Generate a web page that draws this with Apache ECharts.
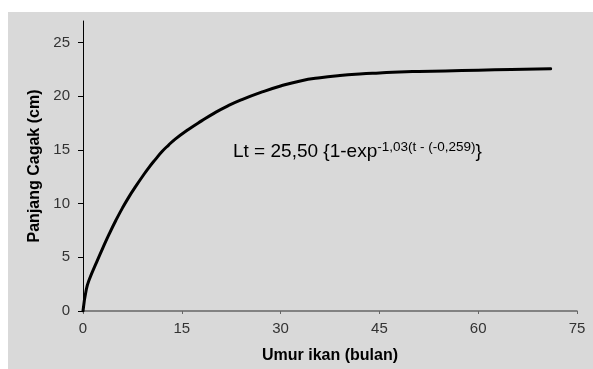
<!DOCTYPE html>
<html>
<head>
<meta charset="utf-8">
<style>
  html, body { margin: 0; padding: 0; background: #ffffff; }
  #chart { width: 593px; height: 369px; }
</style>
<script src="https://cdn.jsdelivr.net/npm/echarts@6/dist/echarts.min.js"></script>
</head>
<body>
<div id="chart"></div>
<script>
// Fish age (months) and fork length (cm) along the growth curve
const ageMonths = [0, 0.5, 1, 2, 3, 4, 5, 6, 7, 8, 9, 10, 11, 12, 13, 14, 16, 18, 20, 22, 24, 27, 30, 33, 36, 39, 42, 45, 48, 51, 55, 60, 65, 71];
const forkLength = [0, 2.0, 3.0, 4.45, 5.85, 7.2, 8.45, 9.6, 10.65, 11.6, 12.5, 13.35, 14.12, 14.85, 15.45, 16.0, 16.9, 17.7, 18.45, 19.1, 19.65, 20.35, 20.95, 21.42, 21.72, 21.92, 22.06, 22.16, 22.25, 22.3, 22.35, 22.42, 22.48, 22.55];
const xTicks = [0, 15, 30, 45, 60, 75];
const yTicks = [0, 5, 10, 15, 20, 25];

const points = ageMonths.map((t, i) => [t, forkLength[i]]);

const chart = echarts.init(document.getElementById('chart'), null, { renderer: 'canvas' });

const font = 'Liberation Sans, Arial, sans-serif';

chart.setOption({
  animation: false,
  backgroundColor: '#ffffff',
  textStyle: { fontFamily: font },
  graphic: [
    {
      type: 'rect',
      z: -10,
      shape: { x: 8, y: 12, width: 585, height: 357 },
      style: { fill: '#d9d9d9' }
    },
    {
      type: 'text',
      left: 233,
      top: 140,
      z: 10,
      style: {
        // growth equation; the closing brace uses the base (main) style
        text: '{m|Lt = 25,50 {1-exp}{s|-1,03(t - (-0,259)}}',
        fontSize: 19,
        fontFamily: font,
        fill: '#000000',
        lineHeight: 24,
        rich: {
          m: { fontSize: 19, fill: '#000000', lineHeight: 24, fontFamily: font },
          s: { fontSize: 13.5, fill: '#000000', lineHeight: 24, verticalAlign: 'top', fontFamily: font }
        }
      }
    }
  ],
  grid: { left: 83, right: 16, top: 21, bottom: 57, containLabel: false },
  xAxis: {
    type: 'value',
    min: 0,
    max: 75,
    interval: 15,
    name: 'Umur ikan (bulan)',
    nameLocation: 'middle',
    nameGap: 37,
    nameTextStyle: { fontSize: 16, fontWeight: 'bold', color: '#000000' },
    axisLine: { show: true, lineStyle: { color: '#666666', width: 1.5 } },
    axisTick: { show: true, inside: false, length: 3, lineStyle: { color: '#666666' }, customValues: xTicks },
    axisLabel: { fontSize: 15, color: '#333333', margin: 10, customValues: xTicks },
    splitLine: { show: false }
  },
  yAxis: {
    type: 'value',
    min: 0,
    max: 27,
    interval: 5,
    name: 'Panjang Cagak (cm)',
    nameLocation: 'middle',
    nameGap: 38,
    nameTextStyle: { fontSize: 16, fontWeight: 'bold', color: '#000000' },
    axisLine: { show: true, lineStyle: { color: '#000000', width: 1 } },
    axisTick: { show: true, inside: false, length: 5, lineStyle: { color: '#000000' }, customValues: yTicks },
    axisLabel: { fontSize: 15, color: '#333333', margin: 13, customValues: yTicks },
    splitLine: { show: false }
  },
  series: [
    {
      type: 'line',
      data: points,
      smooth: 0.5,
      showSymbol: false,
      symbol: 'none',
      lineStyle: { color: '#000000', width: 3, cap: 'round', join: 'round' }
    }
  ]
});
</script>
</body>
</html>
